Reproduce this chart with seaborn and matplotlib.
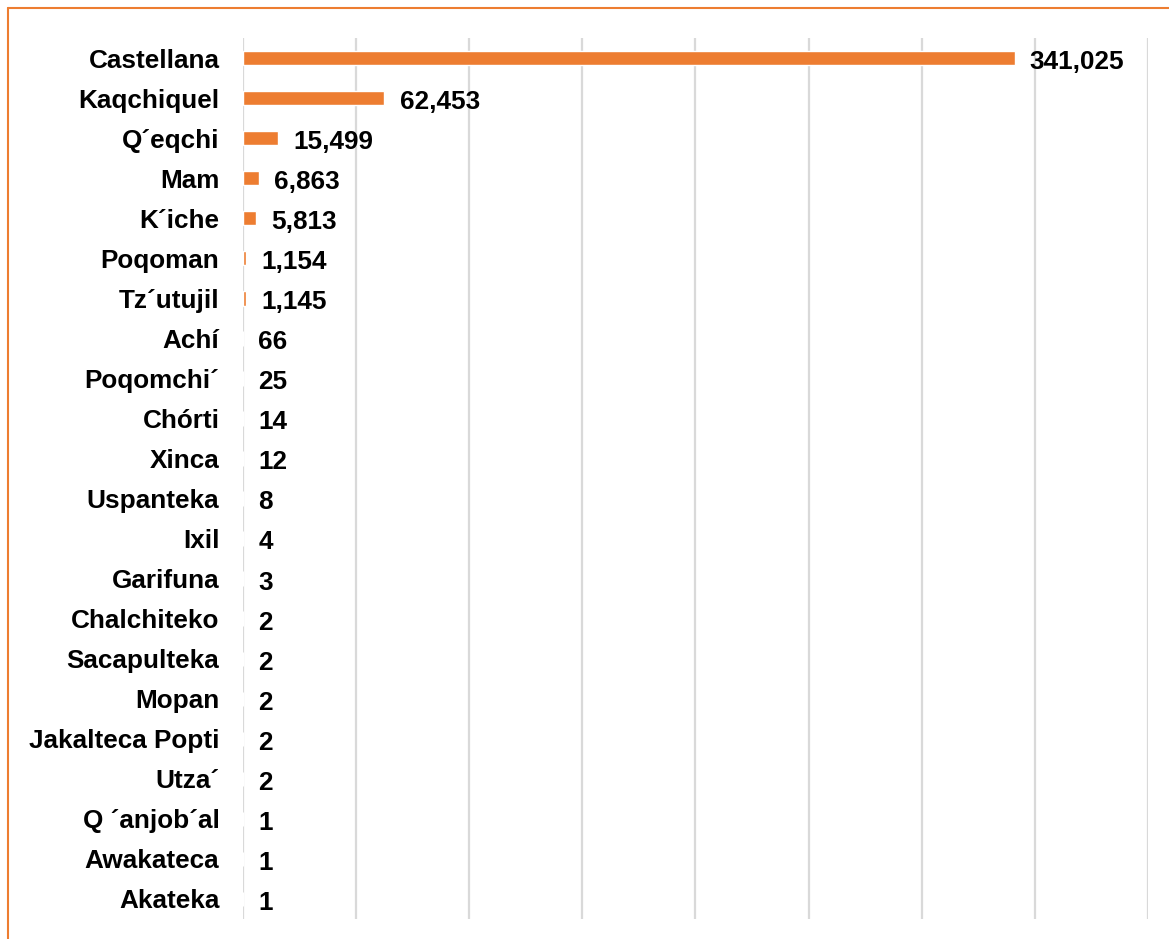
import matplotlib.pyplot as plt
import seaborn as sns
import pandas as pd
from matplotlib.lines import Line2D

# Speakers by language
languages = [
    "Castellana", "Kaqchiquel", "Q´eqchi", "Mam", "K´iche", "Poqoman",
    "Tz´utujil", "Achí", "Poqomchi´", "Chórti", "Xinca", "Uspanteka",
    "Ixil", "Garifuna", "Chalchiteko", "Sacapulteka", "Mopan",
    "Jakalteca Popti", "Utza´", "Q ´anjob´al", "Awakateca", "Akateka"
]
speakers = [
    341025, 62453, 15499, 6863, 5813, 1154,
    1145, 66, 25, 14, 12, 8,
    4, 3, 2, 2, 2,
    2, 2, 1, 1, 1
]

data = pd.DataFrame({"Idioma": languages, "Hablantes": speakers})

sns.set_theme(style="white")
plt.rcParams["font.family"] = ["Liberation Sans", "DejaVu Sans"]

orange = "#ED7D31"
grid_gray = "#D9D9D9"

fig = plt.figure(figsize=(11.69, 9.39), dpi=100)
ax = fig.add_axes([0.2079, 0.0213, 0.982 - 0.2079, 0.9595 - 0.0213])

sns.barplot(data=data, x="Hablantes", y="Idioma", orient="h",
            color=orange, width=0.36, saturation=1, ax=ax)

ax.set_xlim(0, 400000)
ax.set_ylim(len(languages) - 0.5, -0.5)
ax.set_xticks(range(0, 400001, 50000))
ax.xaxis.grid(True, color=grid_gray, linewidth=1.6)
ax.set_axisbelow(True)
ax.tick_params(axis="x", labelbottom=False, length=0)
ax.tick_params(axis="y", length=0, pad=17, labelsize=18.8)
for lbl in ax.get_yticklabels():
    lbl.set_fontweight("bold")
    lbl.set_color("#000000")
for s in ax.spines.values():
    s.set_visible(False)
ax.set_xlabel("")
ax.set_ylabel("")

# value labels
for i, v in enumerate(speakers):
    ax.annotate(f"{v:,}", xy=(v, i), xytext=(11, -1), textcoords="offset points",
                ha="left", va="center_baseline", fontsize=18.8,
                fontweight="bold", color="#000000")

# orange frame (top and left visible)
fig.add_artist(Line2D([0.0068, 0.0068], [0, 0.9915], transform=fig.transFigure,
                      color=orange, linewidth=1.5))
fig.add_artist(Line2D([0.0068, 1], [0.9915, 0.9915], transform=fig.transFigure,
                      color=orange, linewidth=1.5))

fig.savefig("out.png", dpi=100, facecolor="white")
